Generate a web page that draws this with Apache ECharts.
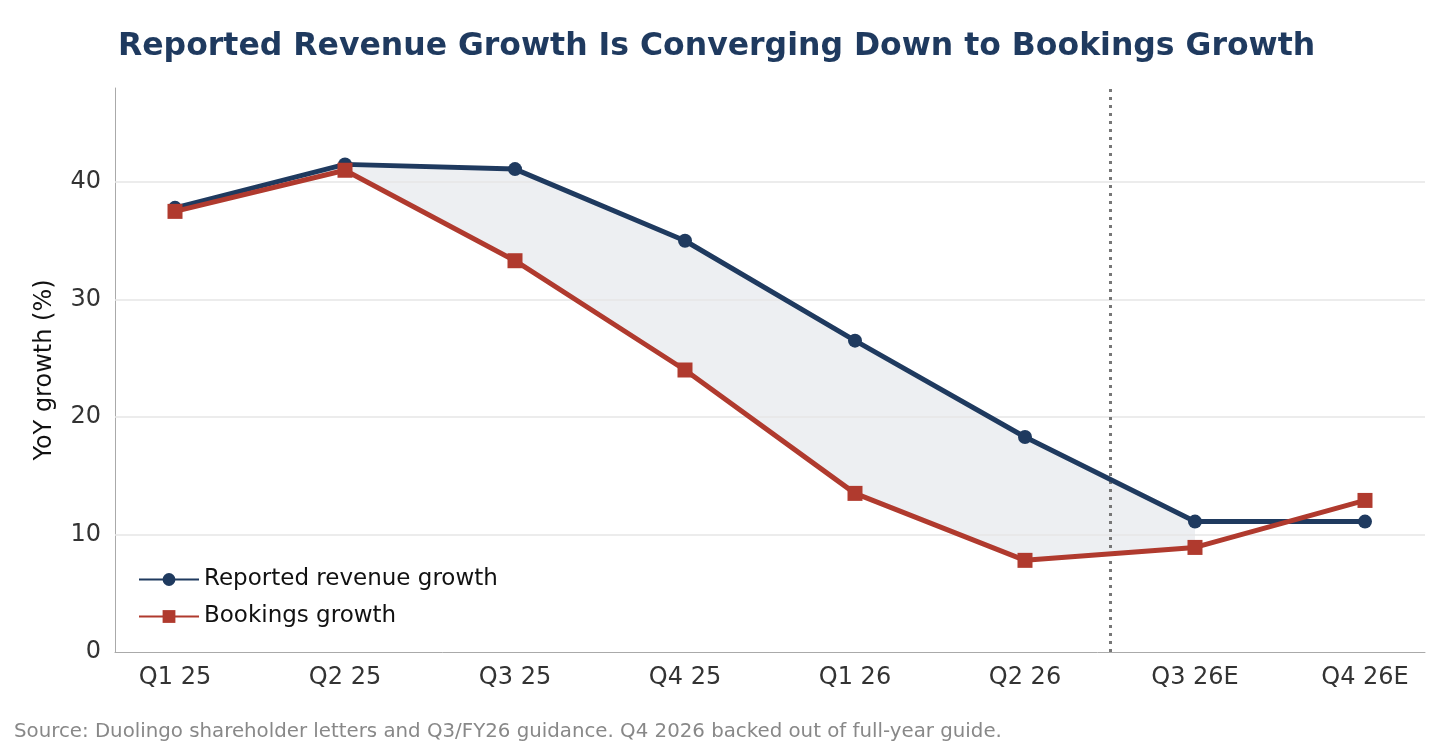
<!DOCTYPE html>
<html><head><meta charset="utf-8">
<script src="https://cdn.jsdelivr.net/npm/echarts@6/dist/echarts.min.js"></script>
<style>html,body{margin:0;padding:0;background:#fff}#c{width:1456px;height:747px}</style>
</head><body><div id="c"></div>
<script>
const categories = ['Q1 25','Q2 25','Q3 25','Q4 25','Q1 26','Q2 26','Q3 26E','Q4 26E'];
const revenue = [37.8, 41.5, 41.1, 35.0, 26.5, 18.3, 11.1, 11.1];
const bookings = [37.5, 41.0, 33.3, 24.0, 13.5, 7.8, 8.9, 12.9];
const shadeEnd = 6;
const yTicks = [0,10,20,30,40];

const navy = '#1f3a5f', red = '#b03a2e';

const chart = echarts.init(document.getElementById('c'));
chart.setOption({
  animation:false,
  textStyle:{fontFamily:'DejaVu Sans'},
  title:{text:'Reported Revenue Growth Is Converging Down to Bookings Growth',left:113,top:26,
    textStyle:{fontSize:31.5,fontWeight:'bold',color:navy,fontFamily:'DejaVu Sans'}},
  graphic:[{type:'text',left:14,top:722,style:{text:'Source: Duolingo shareholder letters and Q3/FY26 guidance. Q4 2026 backed out of full-year guide.',fill:'#888',font:'19.8px DejaVu Sans'}}],
  grid:{left:115,right:31,top:88,bottom:95},
  legend:{orient:'vertical',left:133,top:563,itemWidth:60,itemHeight:16,itemGap:14,
    data:['Reported revenue growth','Bookings growth'],textStyle:{fontSize:23,color:'#111'}},
  xAxis:{type:'value',min:-0.353,max:7.353,interval:1,
    axisLine:{lineStyle:{color:'#aaa'}},axisTick:{show:false},splitLine:{show:false},
    axisLabel:{fontSize:24,color:'#333',margin:14,
      customValues:categories.map((c,i)=>i),formatter:v=>categories[Math.round(v)]}},
  yAxis:{type:'value',min:0,max:48,interval:10,
    name:'YoY growth (%)',nameLocation:'middle',nameGap:58,nameTextStyle:{fontSize:24,color:'#111'},
    axisLine:{show:true,onZero:false,lineStyle:{color:'#aaa'}},axisTick:{show:false},
    axisLabel:{fontSize:24,color:'#333',margin:14,customValues:yTicks},
    splitLine:{show:false}},
  series:[
    {type:'line',data:[],markLine:{silent:true,symbol:'none',label:{show:false},
      lineStyle:{color:'#e6e6e6',width:1.5,type:'solid'},data:yTicks.slice(1).map(v=>({yAxis:v}))}},
    {type:'custom',silent:true,z:1,data:[0],
      renderItem:(params,api)=>{
        const pts=[];
        for(let i=0;i<=shadeEnd;i++) pts.push(api.coord([i,revenue[i]]));
        for(let i=shadeEnd;i>=0;i--) pts.push(api.coord([i,bookings[i]]));
        return {type:'polygon',shape:{points:pts},style:{fill:'#edeff2'}};
      }},
    {name:'Reported revenue growth',type:'line',data:revenue.map((v,i)=>[i,v]),color:navy,
      lineStyle:{width:5,color:navy},symbol:'circle',symbolSize:14,itemStyle:{color:navy},z:5,
      markLine:{silent:true,symbol:'none',label:{show:false},lineStyle:{color:'#777',width:3,type:[3,5]},data:[{xAxis:5.5}]}},
    {name:'Bookings growth',type:'line',data:bookings.map((v,i)=>[i,v]),color:red,
      lineStyle:{width:5,color:red},symbol:'rect',symbolSize:15,itemStyle:{color:red},z:6,
      markPoint:{symbol:'none',data:[{coord:[5.62,44.3],label:{show:true,formatter:'guidance',position:'right',fontSize:22,fontStyle:'italic',color:'#888'}}]}}
  ]
});
</script></body></html>
